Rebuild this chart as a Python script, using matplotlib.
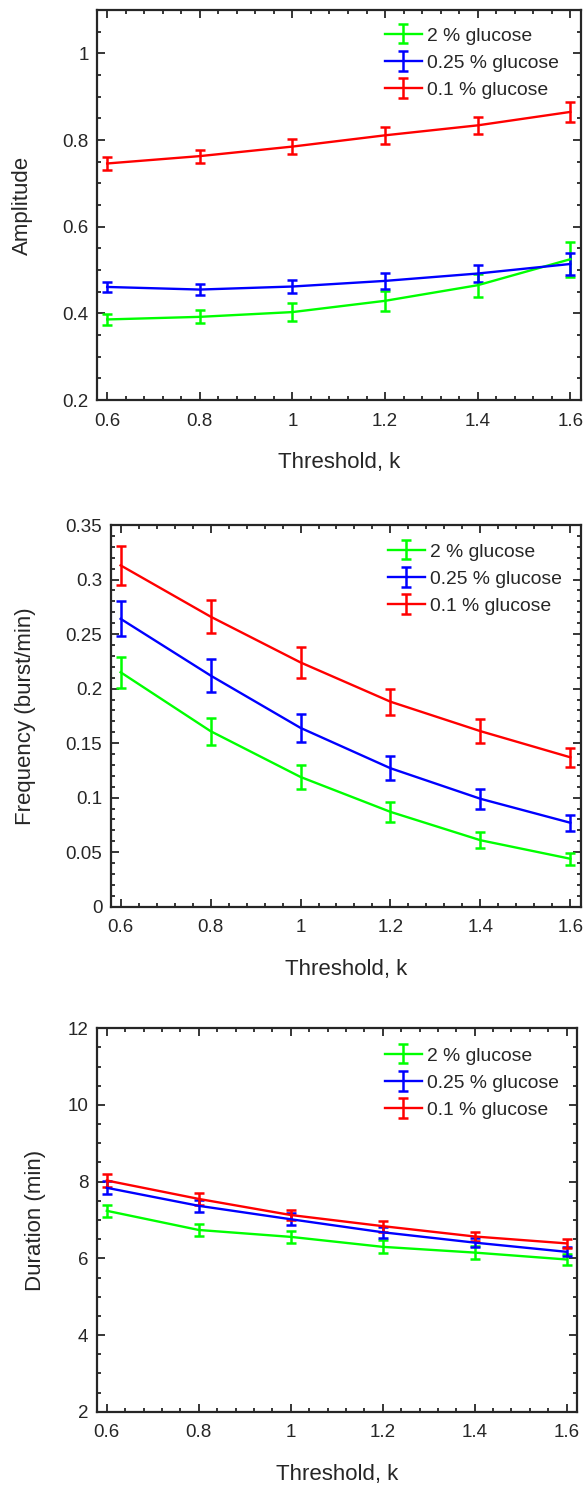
import matplotlib
matplotlib.use('Agg')
import matplotlib.pyplot as plt
import numpy as np
from matplotlib.ticker import MultipleLocator

plt.rcParams['font.family'] = ['Liberation Sans', 'DejaVu Sans']
dark = '#262626'

k = [0.6, 0.8, 1.0, 1.2, 1.4, 1.6]
labels = ['2 % glucose', '0.25 % glucose', '0.1 % glucose']
colors = ['#00ff00', '#0000ff', '#ff0000']

# amplitude
amp_2 = [0.386, 0.392, 0.403, 0.429, 0.465, 0.525]
amp_2_err = [0.012, 0.015, 0.020, 0.023, 0.027, 0.040]
amp_025 = [0.461, 0.455, 0.462, 0.475, 0.492, 0.514]
amp_025_err = [0.012, 0.012, 0.015, 0.018, 0.020, 0.025]
amp_01 = [0.746, 0.763, 0.785, 0.811, 0.834, 0.865]
amp_01_err = [0.015, 0.015, 0.018, 0.019, 0.020, 0.023]

# frequency (burst/min)
freq_2 = [0.215, 0.161, 0.119, 0.087, 0.061, 0.044]
freq_2_err = [0.014, 0.0125, 0.011, 0.009, 0.0073, 0.0057]
freq_025 = [0.264, 0.212, 0.164, 0.127, 0.099, 0.077]
freq_025_err = [0.016, 0.015, 0.0125, 0.011, 0.009, 0.0073]
freq_01 = [0.313, 0.266, 0.224, 0.188, 0.161, 0.137]
freq_01_err = [0.018, 0.015, 0.014, 0.012, 0.011, 0.009]

# duration (min)
dur_2 = [7.24, 6.74, 6.56, 6.30, 6.15, 5.97]
dur_2_err = [0.15, 0.16, 0.165, 0.17, 0.165, 0.15]
dur_025 = [7.84, 7.37, 7.02, 6.68, 6.41, 6.17]
dur_025_err = [0.17, 0.16, 0.15, 0.14, 0.12, 0.12]
dur_01 = [8.03, 7.55, 7.13, 6.84, 6.57, 6.39]
dur_01_err = [0.16, 0.15, 0.13, 0.14, 0.13, 0.12]

fig = plt.figure(figsize=(5.87, 14.86), dpi=100)

panels = [
    dict(rect=[0.1652, 0.7308, 0.8245, 0.2624], ys=[amp_2, amp_025, amp_01],
         es=[amp_2_err, amp_025_err, amp_01_err], ylim=(0.2, 1.1), major=0.2, minor=0.05,
         ylabel='Amplitude', ylx=33, leg=(385, 27)),
    dict(rect=[0.1886, 0.3898, 0.8007, 0.2569], ys=[freq_2, freq_025, freq_01],
         es=[freq_2_err, freq_025_err, freq_01_err], ylim=(0, 0.35), major=0.05, minor=0.01,
         ylabel='Frequency (burst/min)', ylx=36, leg=(388, 543)),
    dict(rect=[0.1647, 0.0500, 0.8187, 0.2580], ys=[dur_2, dur_025, dur_01],
         es=[dur_2_err, dur_025_err, dur_01_err], ylim=(2, 12), major=2, minor=0.5,
         ylabel='Duration (min)', ylx=46, leg=(385, 1047)),
]

W, H = 587.0, 1486.0
for p in panels:
    ax = fig.add_axes(p['rect'])
    for y, e, c, lab in zip(p['ys'], p['es'], colors, labels):
        ax.errorbar(k, y, yerr=e, color=c, lw=1.7, elinewidth=1.8, capsize=3.6,
                    capthick=1.8, label=lab)
    ax.set_xlim(0.578, 1.623)
    ax.set_ylim(*p['ylim'])
    ax.xaxis.set_major_locator(MultipleLocator(0.2))
    ax.xaxis.set_minor_locator(MultipleLocator(0.04))
    ax.yaxis.set_major_locator(MultipleLocator(p['major']))
    ax.yaxis.set_minor_locator(MultipleLocator(p['minor']))
    ax.xaxis.set_major_formatter(plt.FuncFormatter(lambda v, pos: '%g' % round(v, 2)))
    ax.yaxis.set_major_formatter(plt.FuncFormatter(lambda v, pos: '%g' % round(v, 3)))
    ax.tick_params(which='both', direction='in', top=True, right=True,
                   colors=dark, labelcolor=dark, labelsize=13.5, width=1.3)
    ax.tick_params(which='major', length=5.5)
    ax.tick_params(which='minor', length=2.8)
    ax.tick_params(axis='x', pad=9)
    ax.tick_params(axis='y', pad=6)
    for s in ax.spines.values():
        s.set_linewidth(1.6)
        s.set_color(dark)
    ax.set_xlabel('Threshold, k', fontsize=16, color=dark)
    ax.set_ylabel(p['ylabel'], fontsize=16, color=dark)
    # label positions from the reference, in pixels
    l, b, w, h = p['rect']
    lpx, bpx, wpx, hpx = l * W, (1 - b - h) * H, w * W, h * H
    ax.yaxis.set_label_coords((p['ylx'] - lpx) / wpx, 0.5)
    ax.xaxis.set_label_coords(0.5, -52.0 / hpx)
    lx, ly = p['leg']
    ax.legend(loc='upper left', bbox_to_anchor=((lx - lpx) / wpx, 1 - (ly - bpx) / hpx),
              frameon=False, fontsize=13.9, borderpad=0, borderaxespad=0,
              handlelength=1.9, handletextpad=0.3, labelspacing=0.5, labelcolor=dark)

fig.savefig('out.png', dpi=100)
